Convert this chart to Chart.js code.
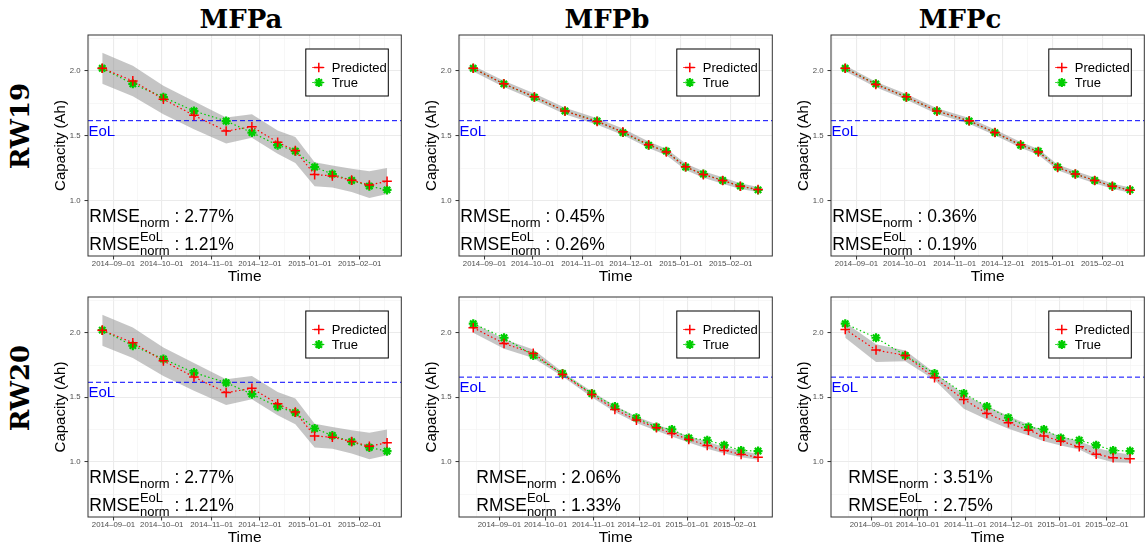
<!DOCTYPE html>
<html>
<head>
<meta charset="utf-8">
<script src="https://cdn.jsdelivr.net/npm/chart.js@4.4.0/dist/chart.umd.min.js"></script>
<style>
  html, body { margin: 0; padding: 0; background: #fff; }
  body { width: 1145px; height: 546px; position: relative; overflow: hidden; }
  .panel { position: absolute; }
  .col-title { position: absolute; top: 6px; font: bold 26px "DejaVu Serif", serif; line-height: 26px; transform: translateX(-50%); white-space: nowrap; color: #000; }
  .row-title { position: absolute; font: bold 26px "DejaVu Serif", serif; line-height: 26px; transform: translate(-50%, -50%) rotate(-90deg); white-space: nowrap; color: #000; }
</style>
</head>
<body>
<div class="col-title" style="left:241px">MFPa</div>
<div class="col-title" style="left:607px">MFPb</div>
<div class="col-title" style="left:960px">MFPc</div>
<div class="row-title" style="left:20px; top:126px">RW19</div>
<div class="row-title" style="left:20px; top:388px">RW20</div>

<script>
const FONT = '"Liberation Sans", Arial, Helvetica, sans-serif';
const RED = '#FF0000';
const GREEN = '#00CD00';
const EOL_BLUE = '#0000FF';

// measurement dates per cell
const datesRW19 = ['2014-08-25', '2014-09-13', '2014-10-02', '2014-10-21', '2014-11-10', '2014-11-26', '2014-12-12',
                   '2014-12-23', '2015-01-04', '2015-01-15', '2015-01-27', '2015-02-07', '2015-02-18'];
const datesRW20 = ['2014-08-15', '2014-09-04', '2014-09-23', '2014-10-12', '2014-10-31', '2014-11-15', '2014-11-29',
                   '2014-12-12', '2014-12-22', '2015-01-02', '2015-01-14', '2015-01-25', '2015-02-05', '2015-02-16'];

const xTickLabels = ['2014-09-01', '2014-10-01', '2014-11-01', '2014-12-01', '2015-01-01', '2015-02-01'];
const yTickLabels = ['1.0', '1.5', '2.0'];

// measured capacity (Ah)
const trueRW19 = [2.02, 1.90, 1.797, 1.691, 1.613, 1.524, 1.427, 1.381, 1.258, 1.204, 1.155, 1.111, 1.082];
const trueRW20 = [2.07, 1.961, 1.824, 1.684, 1.529, 1.429, 1.341, 1.269, 1.251, 1.185, 1.167, 1.129, 1.088, 1.083];

// MFPa, RW19
const predA19 = [2.02, 1.923, 1.782, 1.657, 1.536, 1.569, 1.449, 1.385, 1.20, 1.19, 1.157, 1.12, 1.148];
const lowA19  = [1.90, 1.805, 1.665, 1.55, 1.44, 1.485, 1.36, 1.29, 1.11, 1.10, 1.065, 1.02, 1.05];
const upA19   = [2.14, 2.04, 1.885, 1.765, 1.64, 1.665, 1.54, 1.49, 1.295, 1.27, 1.245, 1.225, 1.25];

// MFPb, RW19
const predB19 = [2.02, 1.90, 1.80, 1.69, 1.61, 1.53, 1.43, 1.375, 1.26, 1.20, 1.155, 1.11, 1.085];
const lowB19  = [1.995, 1.875, 1.775, 1.665, 1.585, 1.505, 1.405, 1.35, 1.235, 1.175, 1.13, 1.088, 1.065];
const upB19   = [2.04, 1.925, 1.825, 1.715, 1.635, 1.555, 1.455, 1.40, 1.285, 1.225, 1.18, 1.133, 1.105];

// MFPc, RW19
const predC19 = [2.02, 1.895, 1.80, 1.69, 1.615, 1.525, 1.43, 1.375, 1.255, 1.205, 1.155, 1.11, 1.08];
const lowC19  = [1.998, 1.873, 1.778, 1.668, 1.593, 1.503, 1.408, 1.353, 1.233, 1.183, 1.133, 1.09, 1.06];
const upC19   = [2.042, 1.917, 1.822, 1.712, 1.637, 1.547, 1.452, 1.397, 1.277, 1.227, 1.177, 1.132, 1.10];

// MFPb, RW20
const predB20 = [2.039, 1.917, 1.840, 1.677, 1.522, 1.406, 1.323, 1.264, 1.220, 1.173, 1.127, 1.088, 1.057, 1.036];
const lowB20  = [2.00, 1.875, 1.805, 1.66, 1.50, 1.385, 1.30, 1.24, 1.195, 1.15, 1.10, 1.065, 1.035, 1.015];
const upB20   = [2.075, 1.95, 1.87, 1.695, 1.545, 1.435, 1.35, 1.29, 1.245, 1.20, 1.155, 1.115, 1.085, 1.06];

// MFPc, RW20
const predC20 = [2.026, 1.866, 1.824, 1.651, 1.483, 1.375, 1.302, 1.245, 1.199, 1.160, 1.116, 1.059, 1.031, 1.023];
const lowC20  = [1.961, 1.773, 1.78, 1.633, 1.411, 1.328, 1.256, 1.204, 1.16, 1.127, 1.096, 1.031, 0.997, 0.992];
const upC20   = [2.078, 1.91, 1.863, 1.69, 1.522, 1.432, 1.354, 1.289, 1.238, 1.199, 1.16, 1.109, 1.075, 1.057];

const eolRW19 = 1.616;
const eolRW20 = 1.656;

const rmseNorm = ['2.77%', '0.45%', '0.36%', '2.77%', '2.06%', '3.51%'];
const rmseEoL  = ['1.21%', '0.26%', '0.19%', '1.21%', '1.33%', '2.75%'];

const Y_MIN = 0.572, Y_MAX = 2.277;
const ANNOT_DAY = 16; // left anchor of the RMSE text, in days

// --- helpers ---
const DAY0 = Date.parse('2014-08-01');
const toDay = s => (Date.parse(s) - DAY0) / 86400000;

function withMinor(major, lo, hi) {
  const out = [major[0] - (major[1] - major[0]) / 2];
  major.forEach((m, i) => {
    out.push(m);
    if (i < major.length - 1) out.push((m + major[i + 1]) / 2);
  });
  out.push(major[major.length - 1] + (major[major.length - 1] - major[major.length - 2]) / 2);
  return out.filter(v => v >= lo && v <= hi);
}

const xMajor = xTickLabels.map(toDay);
const xLabelAt = new Map(xMajor.map((v, i) => [v, xTickLabels[i].replace(/-/g, '\u2013')]));
const yMajor = yTickLabels.map(Number);
const yLabelAt = new Map(yMajor.map((v, i) => [v, yTickLabels[i]]));

function strokeMarker(ctx, shape, x, y, r) {
  ctx.beginPath();
  ctx.moveTo(x - r, y); ctx.lineTo(x + r, y);
  ctx.moveTo(x, y - r); ctx.lineTo(x, y + r);
  if (shape === 'star') {
    const d = r * Math.SQRT1_2;
    ctx.moveTo(x - d, y - d); ctx.lineTo(x + d, y + d);
    ctx.moveTo(x - d, y + d); ctx.lineTo(x + d, y - d);
  }
  ctx.stroke();
}

// EoL line, panel border, RMSE text and the boxed legend
const panelDecor = {
  id: 'panelDecor',
  beforeDatasetDraw(chart, args, opts) {
    if (args.index !== 2) return;
    const { ctx, chartArea: a } = chart;
    const y = chart.scales.y.getPixelForValue(opts.eol);
    ctx.save();
    ctx.strokeStyle = EOL_BLUE;
    ctx.lineWidth = 1;
    ctx.setLineDash([5, 3]);
    ctx.beginPath();
    ctx.moveTo(a.left, y); ctx.lineTo(a.right, y);
    ctx.stroke();
    ctx.restore();
  },
  afterDatasetsDraw(chart, args, opts) {
    const { ctx, chartArea: a } = chart;
    ctx.save();

    // EoL label
    const ey = chart.scales.y.getPixelForValue(opts.eol);
    ctx.fillStyle = EOL_BLUE;
    ctx.font = '15px ' + FONT;
    ctx.textAlign = 'left';
    ctx.textBaseline = 'alphabetic';
    ctx.fillText('EoL', a.left + 0.5, ey + 15);

    // RMSE annotations
    const big = '17.5px ' + FONT, small = '13px ' + FONT;
    const x0 = chart.scales.x.getPixelForValue(ANNOT_DAY);
    const y1 = a.bottom - 34, y2 = a.bottom - 6.5;
    ctx.fillStyle = '#000';
    let cx = x0;
    ctx.font = big; ctx.fillText('RMSE', cx, y1); cx += ctx.measureText('RMSE').width;
    ctx.font = small; ctx.fillText('norm', cx, y1 + 4.5); cx += ctx.measureText('norm').width;
    ctx.font = big; ctx.fillText(' : ' + opts.rmse, cx, y1);
    cx = x0;
    ctx.fillText('RMSE', cx, y2); cx += ctx.measureText('RMSE').width;
    ctx.font = small;
    ctx.fillText('EoL', cx, y2 - 8.5);
    ctx.fillText('norm', cx, y2 + 5);
    cx += Math.max(ctx.measureText('EoL').width, ctx.measureText('norm').width);
    ctx.font = big; ctx.fillText(' : ' + opts.rmseEol, cx, y2);

    // legend box
    const w = 82.5, h = 47;
    const lx = a.right - 13 - w, ly = a.top + 14;
    ctx.fillStyle = '#fff';
    ctx.fillRect(lx, ly, w, h);
    ctx.strokeStyle = '#000';
    ctx.lineWidth = 1;
    ctx.strokeRect(lx, ly, w, h);
    const entries = [chart.data.datasets[3], chart.data.datasets[2]];
    entries.forEach((ds, i) => {
      const ry = ly + 18.5 + i * 15;
      ctx.strokeStyle = ds.borderColor;
      ctx.lineWidth = 1.2;
      ctx.setLineDash([1.5, 2]);
      ctx.beginPath();
      ctx.moveTo(lx + 6.5, ry); ctx.lineTo(lx + 19.5, ry);
      ctx.stroke();
      ctx.setLineDash([]);
      ctx.lineWidth = ds.pointBorderWidth;
      strokeMarker(ctx, ds.pointStyle, lx + 13, ry, ds.pointRadius);
      ctx.fillStyle = '#000';
      ctx.font = '13px ' + FONT;
      ctx.fillText(ds.label, lx + 26, ry + 4.5);
    });

    // panel border
    ctx.strokeStyle = '#333333';
    ctx.lineWidth = 1;
    ctx.strokeRect(a.left, a.top, a.right - a.left, a.bottom - a.top);
    ctx.restore();
  }
};

const panels = [
  { col: 0, row: 0, dates: datesRW19, truth: trueRW19, pred: predA19, lo: lowA19, hi: upA19, eol: eolRW19 },
  { col: 1, row: 0, dates: datesRW19, truth: trueRW19, pred: predB19, lo: lowB19, hi: upB19, eol: eolRW19 },
  { col: 2, row: 0, dates: datesRW19, truth: trueRW19, pred: predC19, lo: lowC19, hi: upC19, eol: eolRW19 },
  { col: 0, row: 1, dates: datesRW19, truth: trueRW19, pred: predA19, lo: lowA19, hi: upA19, eol: eolRW19 },
  { col: 1, row: 1, dates: datesRW20, truth: trueRW20, pred: predB20, lo: lowB20, hi: upB20, eol: eolRW20 },
  { col: 2, row: 1, dates: datesRW20, truth: trueRW20, pred: predC20, lo: lowC20, hi: upC20, eol: eolRW20 }
];

const colLeft = [46, 417, 789];
const rowTop = [25, 287];
const rowHeight = [261, 260];

const majorSet = (set, ctx) => ctx.tick && set.has(ctx.tick.value);

panels.forEach((p, k) => {
  const holder = document.createElement('div');
  holder.className = 'panel';
  holder.style.left = colLeft[p.col] + 'px';
  holder.style.top = rowTop[p.row] + 'px';
  const canvas = document.createElement('canvas');
  canvas.width = 362;
  canvas.height = rowHeight[p.row];
  holder.appendChild(canvas);
  document.body.appendChild(holder);

  const days = p.dates.map(toDay);
  const span = days[days.length - 1] - days[0];
  const xMin = days[0] - 0.05 * span, xMax = days[days.length - 1] + 0.05 * span;
  const xTicks = withMinor(xMajor, xMin, xMax);
  const yTicks = withMinor(yMajor, Y_MIN, Y_MAX);
  const xMajorSet = new Set(xMajor), yMajorSet = new Set(yMajor);
  const pts = vals => vals.map((v, i) => ({ x: days[i], y: v }));

  const gridOpts = set => ({
    color: ctx => majorSet(set, ctx) ? '#EBEBEB' : '#F1F1F1',
    lineWidth: ctx => majorSet(set, ctx) ? 1.1 : 0.6,
    tickColor: ctx => majorSet(set, ctx) ? '#333333' : 'rgba(0,0,0,0)',
    tickWidth: 1,
    tickLength: 3.5
  });

  new Chart(canvas, {
    type: 'line',
    data: {
      datasets: [
        { label: 'lower', data: pts(p.lo), borderWidth: 0, pointRadius: 0, fill: false, order: 3 },
        { label: 'upper', data: pts(p.hi), borderWidth: 0, pointRadius: 0, fill: '-1',
          backgroundColor: 'rgba(140,140,140,0.5)', order: 3 },
        { label: 'True', data: pts(p.truth), borderColor: GREEN, borderWidth: 1.2, borderDash: [1.5, 2.5],
          pointStyle: 'star', pointRadius: 4.5, pointBorderWidth: 2.2, pointBorderColor: GREEN,
          pointBackgroundColor: GREEN, fill: false, order: 2 },
        { label: 'Predicted', data: pts(p.pred), borderColor: RED, borderWidth: 1.2, borderDash: [1.5, 2.5],
          pointStyle: 'cross', pointRadius: 4.8, pointBorderWidth: 1.5, pointBorderColor: RED,
          pointBackgroundColor: RED, fill: false, order: 1 }
      ]
    },
    options: {
      responsive: false,
      animation: false,
      events: [],
      layout: { padding: { top: 10, right: 3, bottom: 0, left: 0 } },
      plugins: {
        legend: { display: false },
        tooltip: { enabled: false },
        panelDecor: { eol: p.eol, rmse: rmseNorm[k], rmseEol: rmseEoL[k] }
      },
      scales: {
        x: {
          type: 'linear',
          min: xMin,
          max: xMax,
          afterBuildTicks: s => { s.ticks = xTicks.map(v => ({ value: v })); },
          afterFit: s => { s.height = 30; },
          grid: gridOpts(xMajorSet),
          border: { display: false },
          ticks: {
            autoSkip: false, maxRotation: 0, minRotation: 0, padding: 0,
            color: '#4D4D4D', font: { size: 7.8, family: FONT },
            callback: v => xLabelAt.get(v) || ''
          },
          title: { display: true, text: 'Time', color: '#000', font: { size: 15.5, family: FONT }, padding: { top: 0, bottom: 0 } }
        },
        y: {
          type: 'linear',
          min: Y_MIN,
          max: Y_MAX,
          afterBuildTicks: s => { s.ticks = yTicks.map(v => ({ value: v })); },
          afterFit: s => { s.width = 42; },
          grid: gridOpts(yMajorSet),
          border: { display: false },
          ticks: {
            autoSkip: false, padding: 4,
            color: '#4D4D4D', font: { size: 7.8, family: FONT },
            callback: v => yLabelAt.get(v) || ''
          },
          title: { display: true, text: 'Capacity (Ah)', color: '#000', font: { size: 15, family: FONT }, padding: { top: 6, bottom: 0 } }
        }
      }
    },
    plugins: [panelDecor]
  });
});
</script>
</body>
</html>
